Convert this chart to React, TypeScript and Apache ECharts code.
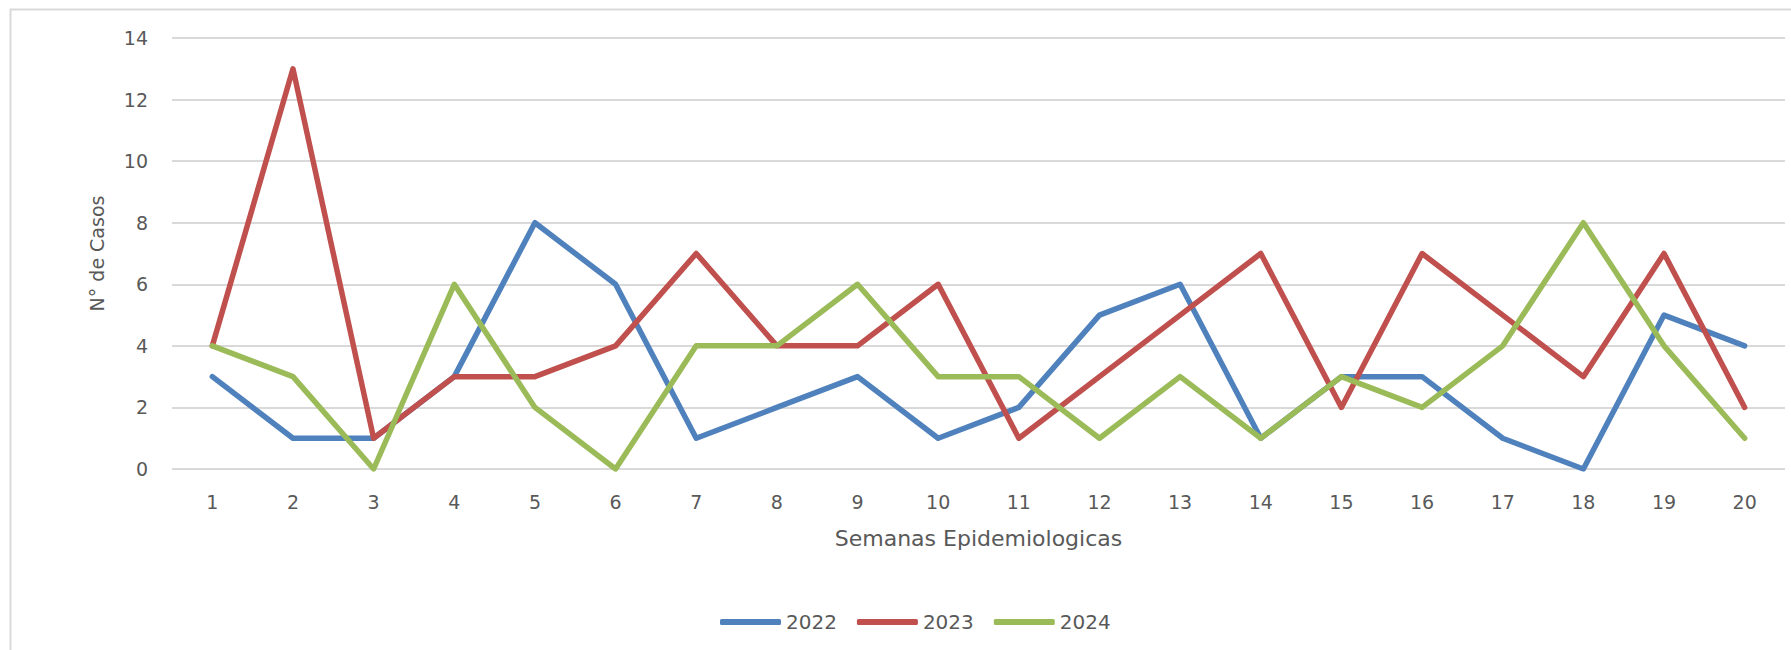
import React, { useEffect, useRef } from "react";
import * as echarts from "echarts";

const weeks = ["1","2","3","4","5","6","7","8","9","10","11","12","13","14","15","16","17","18","19","20"];
const cases2022 = [3,1,1,3,8,6,1,2,3,1,2,5,6,1,3,3,1,0,5,4];
const cases2023 = [4,13,1,3,3,4,7,4,4,6,1,3,5,7,2,7,5,3,7,2];
const cases2024 = [4,3,0,6,2,0,4,4,6,3,3,1,3,1,3,2,4,8,4,1];
const seriesNames = ["2022", "2023", "2024"];
const seriesColors = ["#4f81bd", "#c0504d", "#9bbb59"];

const FONT = "DejaVu Sans";

export default function App() {
  const ref = useRef<HTMLDivElement>(null);
  useEffect(() => {
    if (!ref.current) return;
    const chart = echarts.init(ref.current, undefined, { renderer: "svg" });
    const data = [cases2022, cases2023, cases2024];
    chart.setOption({
      animation: false,
      backgroundColor: "#ffffff",
      textStyle: { fontFamily: FONT },
      graphic: [
        {
          type: "rect",
          shape: { x: 10.5, y: 9.5, width: 1800, height: 700 },
          style: { fill: "none", stroke: "#d9d9d9", lineWidth: 2 },
          silent: true,
        },
      ],
      grid: { left: 172, right: 6, top: 38, bottom: 181, containLabel: false },
      legend: {
        left: 715,
        top: 607,
        icon: "roundRect",
        itemWidth: 61,
        itemHeight: 6,
        itemGap: 20,
        textStyle: { fontFamily: FONT, fontSize: 20, color: "#595959" },
        data: seriesNames,
      },
      xAxis: {
        type: "category",
        data: weeks,
        boundaryGap: true,
        axisLine: { show: false },
        axisTick: { show: false },
        axisLabel: { fontFamily: FONT, fontSize: 19, color: "#595959", margin: 23 },
        name: "Semanas Epidemiologicas",
        nameLocation: "middle",
        nameGap: 58,
        nameTextStyle: { fontFamily: FONT, fontSize: 22, color: "#595959" },
      },
      yAxis: {
        type: "value",
        min: 0,
        max: 14,
        interval: 2,
        axisLine: { show: false },
        axisTick: { show: false },
        axisLabel: { fontFamily: FONT, fontSize: 19, color: "#595959", margin: 24 },
        splitLine: { lineStyle: { color: "#d9d9d9", width: 2 } },
        name: "N° de Casos",
        nameLocation: "middle",
        nameGap: 66,
        nameTextStyle: { fontFamily: FONT, fontSize: 19, color: "#595959" },
      },
      series: seriesNames.map((n, i) => ({
        name: n,
        type: "line",
        data: data[i],
        symbol: "none",
        color: seriesColors[i],
        lineStyle: { color: seriesColors[i], width: 5.5, cap: "round", join: "round" },
        itemStyle: { color: seriesColors[i] },
      })),
    });
    return () => chart.dispose();
  }, []);
  return (
    <div
      ref={ref}
      style={{ position: "fixed", left: 0, top: 0, width: 1791, height: 650 }}
    />
  );
}
